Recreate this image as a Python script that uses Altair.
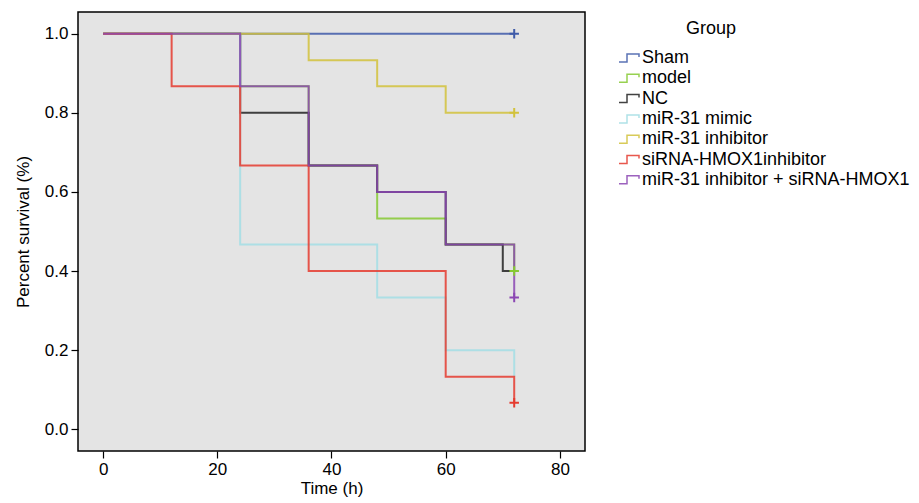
import altair as alt
import pandas as pd

groups = ["Sham", "model", "NC", "miR-31 mimic", "miR-31 inhibitor",
          "siRNA-HMOX1inhibitor", "miR-31 inhibitor + siRNA-HMOX1"]
colors = ["#3F5BA9", "#86C932", "#222222", "#A3DEE5", "#D2C23C", "#E53B2F", "#8B47B3"]

sham_t = [0, 72]
sham_s = [1.0, 1.0]
model_t = [0, 24, 36, 48, 60, 72]
model_s = [1.0, 0.867, 0.667, 0.533, 0.467, 0.4]
nc_t = [0, 24, 36, 48, 60, 70, 72]
nc_s = [1.0, 0.8, 0.667, 0.6, 0.467, 0.4, 0.4]
mimic_t = [0, 24, 48, 60, 72]
mimic_s = [1.0, 0.467, 0.333, 0.2, 0.133]
inhib_t = [0, 36, 48, 60, 72]
inhib_s = [1.0, 0.933, 0.867, 0.8, 0.8]
sirna_t = [0, 12, 24, 36, 60, 72]
sirna_s = [1.0, 0.867, 0.667, 0.4, 0.133, 0.067]
combo_t = [0, 24, 36, 48, 60, 72]
combo_s = [1.0, 0.867, 0.667, 0.6, 0.467, 0.333]

censor_group = ["Sham", "model", "miR-31 inhibitor", "siRNA-HMOX1inhibitor",
                "miR-31 inhibitor + siRNA-HMOX1"]
censor_t = [72, 72, 72, 72, 72]
censor_s = [1.0, 0.4, 0.8, 0.067, 0.333]

series = [(sham_t, sham_s), (model_t, model_s), (nc_t, nc_s), (mimic_t, mimic_s),
          (inhib_t, inhib_s), (sirna_t, sirna_s), (combo_t, combo_s)]
rows = []
for gi, (g, (ts, ss)) in enumerate(zip(groups, series)):
    for t, s in zip(ts, ss):
        rows.append({"Group": g, "order": gi, "time": t, "surv": s})
df = pd.DataFrame(rows)
cdf = pd.DataFrame({"Group": censor_group, "time": censor_t, "surv": censor_s})

FONT = "Liberation Sans"
xscale = alt.Scale(domain=[-4.4, 84.4], nice=False, zero=False)
yscale = alt.Scale(domain=[-0.055, 1.055], nice=False, zero=False)
cscale = alt.Scale(domain=groups, range=colors)

step_symbol = "M-1,0.4H-0.2V-0.4H1V-0.1"

lines = alt.Chart(df).mark_line(interpolate="step-after", strokeWidth=2, opacity=0.85).encode(
    x=alt.X("time:Q", scale=xscale,
            axis=alt.Axis(values=[0, 20, 40, 60, 80], title="Time (h)", grid=False)),
    y=alt.Y("surv:Q", scale=yscale,
            axis=alt.Axis(values=[0, 0.2, 0.4, 0.6, 0.8, 1.0], format=".1f",
                          title="Percent survival (%)", grid=False)),
    color=alt.Color("Group:N", scale=cscale, sort=groups,
                    legend=alt.Legend(title=None, orient="none", legendX=540, legendY=35,
                                      symbolType=step_symbol, symbolSize=400,
                                      symbolStrokeWidth=1.5, symbolFillColor="transparent",
                                      labelFontSize=18, labelFont=FONT, labelColor="black",
                                      labelLimit=0, rowPadding=0.3, labelOffset=2)),
    detail="Group:N",
    order="order:Q",
)

censor = alt.Chart(cdf).mark_point(shape="M-1,0H1M0,-1V1", size=90, strokeWidth=2,
                                   filled=False, opacity=1).encode(
    x=alt.X("time:Q", scale=xscale),
    y=alt.Y("surv:Q", scale=yscale),
    color=alt.Color("Group:N", scale=cscale, legend=None),
)

title_text = alt.Chart(pd.DataFrame({"t": ["Group"]})).mark_text(
    fontSize=18, font=FONT, color="black", align="center", baseline="middle"
).encode(text="t:N", x=alt.value(633), y=alt.value(17))

chart = alt.layer(lines, censor, title_text).properties(
    width=507, height=439,
    autosize=alt.AutoSizeParams(type="none"),
    padding={"left": 70, "top": 4, "right": 326, "bottom": 50},
).configure_view(
    fill="#E4E4E4", stroke="black", strokeWidth=1.5
).configure_axis(
    domain=False, tickColor="black", tickSize=7, tickWidth=1.2,
    labelFont=FONT, labelFontSize=17, labelColor="black", labelPadding=3,
    titleFont=FONT, titleFontSize=17, titleColor="black", titleFontWeight="normal",
).configure_axisY(titlePadding=12).configure_axisX(titlePadding=3)

chart.save("out.html", embed_options={"renderer": "svg", "actions": False})
